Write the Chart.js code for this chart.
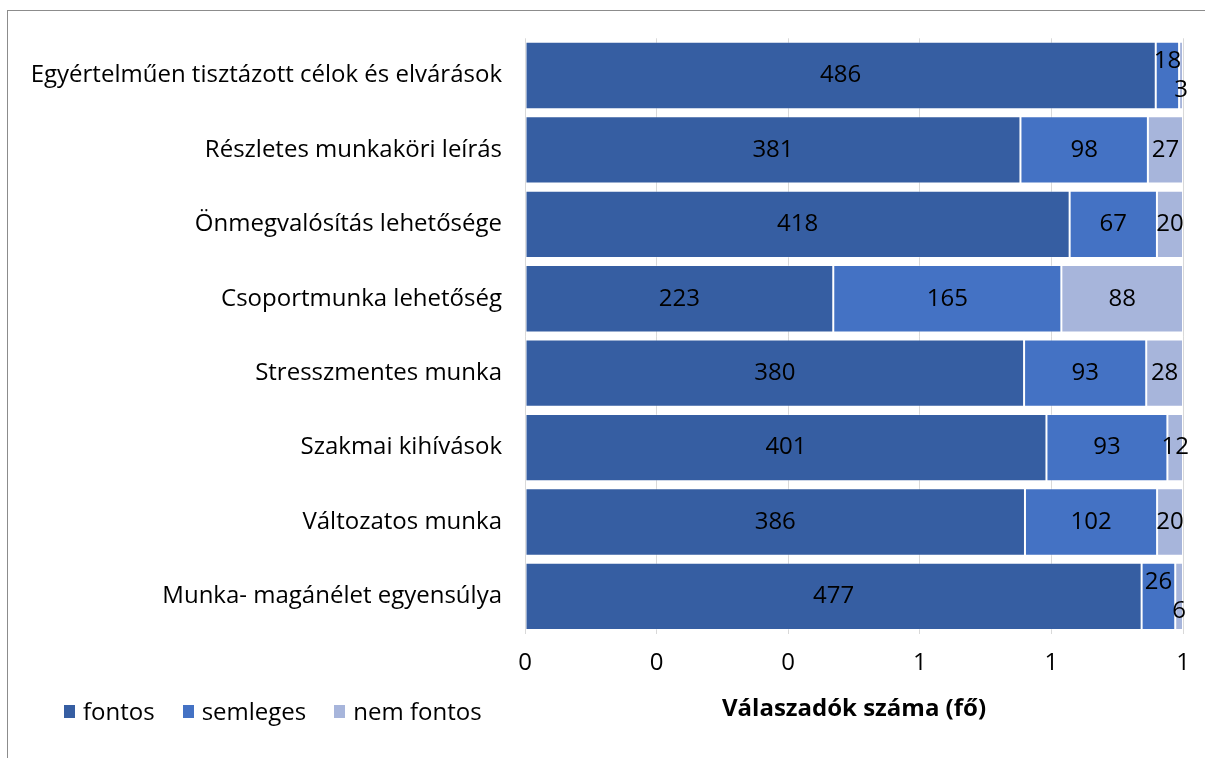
<!DOCTYPE html>
<html><head><meta charset="utf-8">
<script src="https://cdn.jsdelivr.net/npm/chart.js@4.4.1/dist/chart.umd.min.js"></script>
<style>
html,body{margin:0;padding:0;background:#fff;overflow:hidden}
#wrap{position:relative;width:1205px;height:758px;overflow:hidden}
#frame{position:absolute;left:7px;top:10px;width:1400px;height:900px;border-top:1px solid #8c8c8c;border-left:1px solid #8c8c8c}
canvas{position:absolute;left:0;top:0}
#legend{position:absolute;left:64px;top:696px;display:flex;gap:28px;font-family:'Open Sans';font-size:24px;line-height:30px;color:#000}
.item{display:flex;align-items:center}
.sw{width:11px;height:13px;margin-right:8px}
</style></head><body>
<div id="wrap"><div id="frame"></div><canvas id="c" width="1205" height="758"></canvas><div id="legend"></div></div>
<script>
const categories = [
  'Egyértelműen tisztázott célok és elvárások',
  'Részletes munkaköri leírás',
  'Önmegvalósítás lehetősége',
  'Csoportmunka lehetőség',
  'Stresszmentes munka',
  'Szakmai kihívások',
  'Változatos munka',
  'Munka- magánélet egyensúlya'
];
const fontos    = [486, 381, 418, 223, 380, 401, 386, 477];
const semleges  = [18, 98, 67, 165, 93, 93, 102, 26];
const nemFontos = [3, 27, 20, 88, 28, 12, 20, 6];
const seriesNames  = ['fontos', 'semleges', 'nem fontos'];
const seriesColors = ['#365EA2', '#4472C4', '#A7B5DB'];
const axisTitle = 'Válaszadók száma (fő)';

const seriesCounts = [fontos, semleges, nemFontos];
const totals = categories.map((_, i) => fontos[i] + semleges[i] + nemFontos[i]);

const FONT = "'Open Sans'";
const FS = 24;

const datasets = seriesCounts.map((arr, d) => ({
  label: seriesNames[d],
  counts: arr,
  data: arr.map((v, i) => v / totals[i]),
  backgroundColor: seriesColors[d],
  borderColor: 'rgba(255,255,255,0.3)',
  borderWidth: 1,
  borderSkipped: false,
  barPercentage: 0.905,
  categoryPercentage: 1
}));

const labelPlugin = {
  id: 'segLabels',
  afterDatasetsDraw(chart) {
    const ctx = chart.ctx;
    ctx.save();
    ctx.font = FS + "px " + FONT;
    ctx.fillStyle = '#000';
    ctx.textAlign = 'center';
    ctx.textBaseline = 'middle';
    const n = chart.data.labels.length;
    for (let r = 0; r < n; r++) {
      const items = chart.data.datasets.map((ds, d) => {
        const el = chart.getDatasetMeta(d).data[r];
        const text = String(ds.counts[r]);
        return { text, cx: (el.x + el.base) / 2, y: el.y, w: ctx.measureText(text).width, dy: 0 };
      });
      for (let i = 1; i < items.length; i++) {
        const a = items[i - 1], b = items[i];
        if (b.cx - b.w / 2 < a.cx + a.w / 2 + 5) { a.dy = -14; b.dy = 15; }
      }
      items.forEach(it => ctx.fillText(it.text, it.cx, it.y + it.dy));
    }
    ctx.restore();
  }
};

new Chart(document.getElementById('c'), {
  type: 'bar',
  data: { labels: categories, datasets },
  plugins: [labelPlugin],
  options: {
    indexAxis: 'y',
    responsive: false,
    animation: false,
    devicePixelRatio: 1,
    layout: { padding: { top: 38.3, right: 22, bottom: 34.4, left: 0 } },
    plugins: { legend: { display: false }, tooltip: { enabled: false } },
    scales: {
      x: {
        stacked: true,
        min: 0, max: 1,
        afterFit(s) { s.height = 90; },
        ticks: {
          stepSize: 0.2,
          padding: 15,
          color: '#000',
          font: { family: FONT, size: FS },
          callback: v => String(Math.round(v))
        },
        grid: { color: '#d9d9d9', lineWidth: 1, drawTicks: false },
        border: { display: false },
        title: {
          display: true,
          text: axisTitle,
          color: '#000',
          padding: { top: 0, bottom: 0 },
          font: { family: FONT, size: FS, weight: 'bold' }
        }
      },
      y: {
        stacked: true,
        afterFit(s) { s.width = 525; },
        ticks: { padding: 23, color: '#000', font: { family: FONT, size: FS } },
        grid: { display: false, drawTicks: false },
        border: { display: false }
      }
    }
  }
});

const legend = document.getElementById('legend');
seriesNames.forEach((name, i) => {
  const it = document.createElement('div');
  it.className = 'item';
  const sw = document.createElement('span');
  sw.className = 'sw';
  sw.style.background = seriesColors[i];
  const tx = document.createElement('span');
  tx.textContent = name;
  it.appendChild(sw); it.appendChild(tx);
  legend.appendChild(it);
});
</script>
</body></html>
